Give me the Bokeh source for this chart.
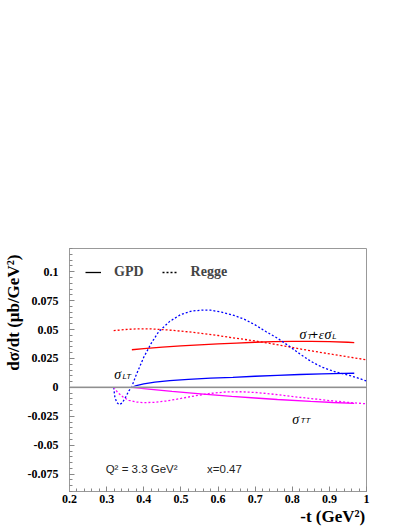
import numpy as np
from bokeh.plotting import figure
from bokeh.models import Range1d, FixedTicker, Label, Legend, LegendItem, Span, ColumnDataSource
from bokeh.embed import file_html
from bokeh.resources import INLINE

# ---------------- data ----------------
x_ticks = [0.2, 0.3, 0.4, 0.5, 0.6, 0.7, 0.8, 0.9, 1.0]
x_tick_labels = ["0.2", "0.3", "0.4", "0.5", "0.6", "0.7", "0.8", "0.9", "1"]
y_ticks = [-0.075, -0.05, -0.025, 0.0, 0.025, 0.05, 0.075, 0.1]
y_tick_labels = ["-0.075", "-0.05", "-0.025", "0", "0.025", "0.05", "0.075", "0.1"]

# sigma_T + eps sigma_L, Regge (dashed red)
t_regge_tl = [0.319, 0.35, 0.38, 0.42, 0.47, 0.52, 0.56, 0.60, 0.64, 0.69, 0.73, 0.78,
              0.83, 0.88, 0.93, 0.97, 1.00]
s_regge_tl = [0.0490, 0.0500, 0.0505, 0.0505, 0.0495, 0.0480, 0.0464, 0.0448, 0.0428,
              0.0406, 0.0385, 0.0357, 0.0327, 0.0300, 0.0274, 0.0253, 0.0238]
# sigma_T + eps sigma_L, GPD (solid red)
t_gpd_tl = [0.368, 0.40, 0.45, 0.50, 0.55, 0.60, 0.65, 0.70, 0.75, 0.80, 0.85, 0.90, 0.95, 0.967]
s_gpd_tl = [0.0325, 0.0335, 0.0348, 0.0358, 0.0367, 0.0375, 0.0383, 0.0390, 0.0395,
            0.0397, 0.0397, 0.0395, 0.0390, 0.0387]
# sigma_LT, Regge (dashed blue)
t_regge_lt = [0.319, 0.322, 0.327, 0.334, 0.342, 0.352, 0.360, 0.367, 0.38, 0.40, 0.42,
              0.44, 0.47, 0.50, 0.53, 0.56, 0.58, 0.61, 0.64, 0.67, 0.70, 0.73, 0.76,
              0.79, 0.82, 0.85, 0.88, 0.91, 0.94, 0.97, 1.00]
s_regge_lt = [0.0, -0.008, -0.013, -0.015, -0.0135, -0.008, -0.003, 0.0, 0.011, 0.026,
              0.038, 0.048, 0.057, 0.063, 0.066, 0.0668, 0.0667, 0.065, 0.0625, 0.059,
              0.054, 0.048, 0.0425, 0.036, 0.029, 0.0225, 0.0175, 0.0140, 0.0115, 0.0088, 0.0055]
# sigma_LT, GPD (solid blue)
t_gpd_lt = [0.368, 0.38, 0.40, 0.43, 0.47, 0.52, 0.58, 0.64, 0.70, 0.76, 0.82, 0.88, 0.94, 0.967]
s_gpd_lt = [0.0, 0.0015, 0.0030, 0.0045, 0.0058, 0.0069, 0.0079, 0.0087, 0.0096, 0.0104,
            0.0111, 0.0116, 0.0121, 0.0122]
# sigma_TT, Regge (dashed magenta)
t_regge_tt = [0.319, 0.33, 0.345, 0.36, 0.38, 0.40, 0.43, 0.46, 0.50, 0.54, 0.58, 0.62,
              0.66, 0.70, 0.74, 0.78, 0.82, 0.86, 0.90, 0.95, 1.00]
s_regge_tt = [0.0, -0.0045, -0.0085, -0.0112, -0.0127, -0.0132, -0.0129, -0.0118, -0.0096,
              -0.0072, -0.0052, -0.0040, -0.0038, -0.0044, -0.0056, -0.0071, -0.0086,
              -0.0100, -0.0114, -0.0130, -0.0142]
# sigma_TT, GPD (solid magenta)
t_gpd_tt = [0.368, 0.42, 0.476, 0.561, 0.637, 0.70, 0.76, 0.85, 0.91, 0.967]
s_gpd_tt = [0.0, -0.0017, -0.0035, -0.0058, -0.0078, -0.0092, -0.0105, -0.0122, -0.0131, -0.0139]

RED, BLUE, MAGENTA = "#ff0000", "#0000ff", "#ff00ff"
SERIF = "Liberation Serif"
SANS = "Liberation Sans"
NBSP = "\u00a0"

p = figure(width=408, height=528, output_backend="svg", toolbar_location=None,
           x_range=Range1d(0.2, 1.0), y_range=Range1d(-0.09, 0.12),
           min_border_left=67, min_border_right=42, min_border_top=248, min_border_bottom=37)
p.xgrid.visible = False
p.ygrid.visible = False
p.outline_line_color = "#999999"
p.background_fill_color = "white"
p.border_fill_color = "white"

x_minor = list(np.round(np.arange(0.2, 1.0001, 0.02), 4))
y_minor = list(np.round(np.arange(-0.09, 0.1201, 0.005), 4))
p.xaxis.ticker = FixedTicker(ticks=x_ticks, minor_ticks=x_minor)
p.yaxis.ticker = FixedTicker(ticks=y_ticks, minor_ticks=y_minor)
p.xaxis.major_label_overrides = dict(zip(x_ticks, x_tick_labels))
p.yaxis.major_label_overrides = dict(zip(y_ticks, y_tick_labels))
for ax in (p.xaxis, p.yaxis):
    ax.axis_line_color = "#999999"
    ax.major_tick_line_color = "#888888"
    ax.minor_tick_line_color = "#888888"
    ax.major_tick_in = 5
    ax.major_tick_out = 0
    ax.minor_tick_in = 3
    ax.minor_tick_out = 0
    ax.major_label_text_font = SERIF
    ax.major_label_text_font_style = "bold"
    ax.major_label_text_font_size = "12px"
    ax.major_label_text_color = "black"
    ax.axis_label_text_font = SERIF
    ax.axis_label_text_font_style = "bold"
    ax.axis_label_text_font_size = "17px"
    ax.axis_label_text_color = "black"
p.yaxis.major_label_standoff = 11
p.xaxis.major_label_standoff = 3
# titles sit at the far end of each axis (as in the original); leading
# non-breaking spaces push the centred text so its visible end meets the frame corner
p.xaxis.axis_label = NBSP * 54 + "-t (GeV²)"
p.yaxis.axis_label = NBSP * 27 + "dσ/dt (μb/GeV²)"
p.xaxis.axis_label_standoff = 1
p.yaxis.axis_label_standoff = 2

# zero line
p.add_layout(Span(location=0, dimension="width", line_color="#c8c8c8", line_width=2))
p.add_layout(Span(location=0, dimension="width", line_color="#444444", line_width=1, line_dash="1 1"))

lw = 1.3
p.line(t_regge_tl, s_regge_tl, line_color=RED, line_width=lw, line_dash="2 2")
p.line(t_gpd_tl, s_gpd_tl, line_color=RED, line_width=lw)
p.line(t_regge_lt, s_regge_lt, line_color=BLUE, line_width=lw, line_dash="2 2")
p.line(t_gpd_lt, s_gpd_lt, line_color=BLUE, line_width=lw)
p.line(t_regge_tt, s_regge_tt, line_color=MAGENTA, line_width=lw, line_dash="2 2")
p.line(t_gpd_tt, s_gpd_tt, line_color=MAGENTA, line_width=lw)

# legend (black samples; renderers hold no visible points)
blank = ColumnDataSource(data=dict(x=[np.nan], y=[np.nan]))
r_solid = p.line("x", "y", source=blank, line_color="black", line_width=lw)
r_dash = p.line("x", "y", source=blank, line_color="black", line_width=lw, line_dash="2 2")
leg = Legend(items=[LegendItem(label="GPD", renderers=[r_solid]),
                    LegendItem(label="Regge", renderers=[r_dash])],
             orientation="horizontal", location=(16, 211),
             padding=0, margin=0, spacing=18, label_standoff=13,
             glyph_width=16, glyph_height=14, label_height=14,
             border_line_alpha=0, background_fill_alpha=0,
             label_text_font=SERIF, label_text_font_style="bold",
             label_text_font_size="14px")
p.add_layout(leg)


def lab(x, y, text, size, font=SERIF, style="normal", align="left", baseline="alphabetic",
        color="black"):
    p.add_layout(Label(x=x, y=y, text=text, text_font=font, text_font_style=style,
                       text_font_size=size, text_align=align, text_baseline=baseline,
                       text_color=color))


# curve labels
lab(0.3204, 0.0110, "σ", "14px", style="italic")
lab(0.3426, 0.0097, "LT", "8px", font=SANS, style="italic")
lab(0.8001, -0.0275, "σ", "14px", style="italic")
lab(0.8223, -0.0290, "TT", "8px", font=SANS, style="italic")
lab(0.8197, 0.0458, "σ", "14px", style="italic")
lab(0.8403, 0.0441, "T", "8px", font=SANS, style="italic")
lab(0.8491, 0.0458, "+", "13px", font=SANS)
lab(0.8716, 0.0458, "ε", "13px", style="italic")
lab(0.8866, 0.0458, "σ", "14px", style="italic")
lab(0.9080, 0.0441, "L", "8px", font=SANS, style="italic")

# kinematics
lab(0.2974, -0.0707, "Q² = 3.3 GeV²", "11.5px", font=SANS, color="#222222")
lab(0.5705, -0.0707, "x=0.47", "11.5px", font=SANS, color="#222222")

open("out.html", "w").write(file_html(p, INLINE))
